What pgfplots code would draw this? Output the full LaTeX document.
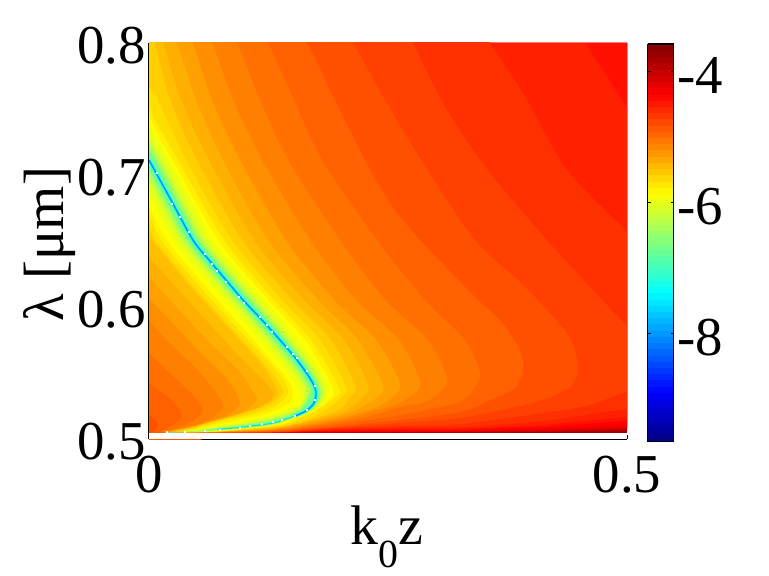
\documentclass[border=0pt]{standalone}
\usepackage{fontspec}
\setmainfont{Liberation Serif}
\usepackage{pgfplots}
\pgfplotsset{compat=1.18}

% colours of the 64 step jet map that occur in the picture
\definecolor{j31}{rgb}{.4375,1,.5625}
\definecolor{j34}{rgb}{.625,1,.375}
\definecolor{j36}{rgb}{.75,1,.25}
\definecolor{j38}{rgb}{.875,1,.125}
\definecolor{j39}{rgb}{.9375,1,.0625}
\definecolor{j40}{rgb}{1,1,0}
\definecolor{j41}{rgb}{1,.9375,0}
\definecolor{j42}{rgb}{1,.875,0}
\definecolor{j43}{rgb}{1,.8125,0}
\definecolor{j44}{rgb}{1,.75,0}
\definecolor{j45}{rgb}{1,.6875,0}
\definecolor{j46}{rgb}{1,.625,0}
\definecolor{j47}{rgb}{1,.5625,0}
\definecolor{j48}{rgb}{1,.5,0}
\definecolor{j49}{rgb}{1,.4375,0}
\definecolor{j50}{rgb}{1,.375,0}
\definecolor{j51}{rgb}{1,.3125,0}
\definecolor{j52}{rgb}{1,.25,0}
\definecolor{j53}{rgb}{1,.1875,0}
\definecolor{j54}{rgb}{1,.125,0}
\definecolor{j55}{rgb}{1,.0625,0}
\definecolor{j56}{rgb}{1,0,0}
\definecolor{j57}{rgb}{.9375,0,0}
\definecolor{j58}{rgb}{.875,0,0}
\definecolor{j60}{rgb}{.75,0,0}
\definecolor{j62}{rgb}{.625,0,0}

\newcommand{\bigfont}{\fontsize{55}{55}\selectfont}

\pgfplotsset{
    band/.style={draw=none,fill=#1,forget plot,smooth cycle,tension=0.5},
    strip/.style={draw=none,fill=#1,forget plot},
}

\begin{document}
\begin{tikzpicture}
\useasboundingbox (0,0) rectangle (769bp,576bp);
\begin{axis}[
    at={(149bp,136.5bp)},
    anchor=south west,
    scale only axis,
    width=478bp,
    height=396.5bp,
    xmin=0, xmax=0.5,
    ymin=0.5, ymax=0.8,
    axis x line*=bottom,
    axis y line*=left,
    axis line style={-,line width=1.5bp},
    xtick={0,0.5},
    xticklabels={0,0.5},
    ytick={0.5,0.6,0.7,0.8},
    yticklabels={0.5,0.6,0.7,0.8},
    xtick align=inside,
    major tick length=4bp,
    ytick style={draw=none},
    xtick style={line width=0.8bp,black},
    xticklabel style={font=\bigfont,inner sep=0pt,anchor=north,yshift=-16.5bp},
    yticklabel style={font=\bigfont,inner sep=0pt,anchor=east,xshift=-3bp,yshift=-2.5bp},
    every axis x label/.style={at={(axis description cs:0.497,0)},anchor=base,yshift=-104.5bp,font=\fontsize{56}{56}\selectfont},
    every axis y label/.style={at={(axis description cs:-0.178,0.493)},rotate=90,anchor=base,font=\fontsize{57}{57}\selectfont},
    xlabel={k\raisebox{-23bp}{\fontsize{40}{40}\selectfont 0}z},
    ylabel={λ [μm]},
    colormap/jet,
    point meta min=-9.655,
    point meta max=-3.58,
    colorbar sampled,
    colorbar style={
        samples=65,
        at={(parent axis.north east)},
        anchor=north west,
        xshift=12bp,
        yshift=-1bp,
        scale only axis,
        width=26bp,
        height=397.7bp,
        ytick={-8,-6,-4},
        yticklabels={-8,-6,-4},
        ytick pos=both,
        yticklabel pos=right,
        ytick align=inside,
        major tick length=3bp,
        axis line style={line width=1.5bp},
        ytick style={line width=0.8bp,black},
        yticklabel style={font=\bigfont,inner sep=0pt,anchor=west,xshift=4bp,yshift=-4bp},
    },
]
% dark strip at the bottom, then the levels from the top of the scale down
\addplot[strip=j62] coordinates {(0,.8)(.5,.8)(.5,.5049)(0,.5049)};
\addplot[strip=j60] coordinates {(0,.8)(.5,.8)(.5,.5064)(.4121,.5057)(.3253,.5052)(.1998,.5049)(0,.5049)};
\addplot[strip=j58] coordinates {(0,.8)(.5,.8)(.5,.5080)(.4121,.5064)(.3253,.5059)(.1998,.5055)(.0743,.5049)(0,.5049)};
\addplot[strip=j57] coordinates {(0,.8)(.5,.8)(.5,.5091)(.4121,.5072)(.3253,.5062)(.1998,.5058)(.0743,.5049)(0,.5049)};
\addplot[strip=j56] coordinates {(0,.8)(.5,.8)(.5,.5110)(.4121,.5080)(.3253,.5064)(.2625,.5064)(.1998,.5064)(.1370,.5053)(.0743,.5049)(0,.5049)};
\addplot[strip=j55] coordinates {(0,.8)(.5,.8)(.5,.5140)(.4121,.5095)(.3253,.5072)(.2625,.5072)(.1998,.5068)(.1370,.5054)(.0743,.5050)(0,.5049)};
\addplot[strip=j54] coordinates {(0,.8)(.4561,.8)(.5,.7508)(.5,.5170)(.4121,.5110)(.3253,.5080)(.2625,.5080)(.1998,.5072)(.1370,.5057)(.0743,.5051)(0,.5049)};

\addplot[band=j53] coordinates {(-.03,.83)(.33,.83)(.3567,.8)(.3912,.7622)(.4372,.7039)(.5010,.6570)(.53,.64)(.53,.52)(.5010,.5231)(.4121,.5140)(.3253,.5095)(.2625,.5091)(.1998,.5080)(.1370,.5056)(.0743,.5052)(-.03,.5045)};
\addplot[band=j52] coordinates {(-.03,.83)(.255,.83)(.2761,.8)(.3117,.7493)(.3567,.7016)(.4163,.6509)(.4613,.6154)(.5010,.5851)(.53,.565)(.53,.53)(.5010,.5360)(.4613,.5261)(.4121,.5201)(.3253,.5117)(.2625,.5102)(.1998,.5087)(.1370,.5057)(.0743,.5050)(-.03,.5045)};
\addplot[band=j51] coordinates {(-.03,.83)(.19,.83)(.2134,.8)(.2469,.7569)(.2845,.7115)(.3410,.6509)(.3912,.6169)(.4383,.5791)(.4487,.5541)(.4404,.5397)(.4121,.5299)(.3776,.5238)(.3253,.5163)(.2625,.5125)(.1998,.5095)(.1370,.5060)(.0743,.5052)(-.03,.5045)};
\addplot[band=j50] coordinates {(-.03,.83)(.14,.83)(.1653,.8)(.1946,.7569)(.2259,.7115)(.2521,.6789)(.2835,.6509)(.3441,.6056)(.3671,.5904)(.3881,.5677)(.3912,.5511)(.3828,.5390)(.3619,.5314)(.3253,.5208)(.2625,.5148)(.1998,.5102)(.1370,.5064)(.0743,.5053)(.0167,.5049)(.0042,.5053)(.0094,.5110)(0,.5185)(-.02,.525)};
\addplot[band=j49] coordinates {(-.03,.83)(.10,.83)(.1245,.8)(.1517,.7569)(.1810,.7115)(.2385,.6509)(.2887,.6056)(.3305,.5753)(.3462,.5503)(.3389,.5375)(.3253,.5284)(.2939,.5231)(.2625,.5185)(.1998,.5117)(.1370,.5068)(.0743,.5055)(.0146,.5053)(.0282,.5125)(.0345,.5201)(.0199,.5322)(0,.5428)(-.02,.555)};
\addplot[band=j48] coordinates {(-.03,.83)(.07,.83)(.0920,.8)(.1161,.7569)(.1454,.7115)(.1998,.6509)(.2469,.6056)(.2918,.5753)(.3117,.5465)(.3044,.5360)(.2887,.5284)(.2625,.5246)(.2312,.5178)(.1998,.5133)(.1370,.5072)(.0743,.5057)(.0167,.5053)(.0303,.5087)(.0471,.5140)(.0565,.5223)(.0481,.5322)(.0241,.5488)(0,.5655)(-.02,.58)};
\addplot[band=j47] coordinates {(-.03,.83)(.045,.83)(.0659,.8)(.0879,.7569)(.1182,.7115)(.1684,.6509)(.2165,.6056)(.2615,.5753)(.2835,.5435)(.2751,.5337)(.2573,.5261)(.2312,.5208)(.1998,.5148)(.1370,.5076)(.0743,.5058)(.0199,.5057)(.0481,.5110)(.0669,.5163)(.0774,.5246)(.0722,.5337)(.0513,.5526)(.0241,.5715)(0,.5904)(-.02,.61)};
\addplot[band=j46] coordinates {(-.03,.83)(.028,.83)(.0460,.8)(.0659,.7569)(.0952,.7115)(.1433,.6509)(.1935,.6056)(.2374,.5753)(.2625,.5428)(.2552,.5322)(.2364,.5238)(.1998,.5163)(.1370,.5080)(.0743,.5059)(.0220,.5057)(.0429,.5095)(.0659,.5140)(.0847,.5193)(.0952,.5276)(.0826,.5450)(.0513,.5677)(.0220,.5904)(0,.6071)(-.02,.63)};
\addplot[band=j45] coordinates {(-.03,.83)(.012,.83)(.0293,.8)(.0492,.7569)(.0774,.7115)(.1245,.6509)(.1768,.6056)(.2186,.5753)(.2448,.5412)(.2374,.5314)(.2207,.5238)(.1998,.5182)(.1370,.5087)(.0743,.5060)(.0241,.5057)(.0533,.5110)(.0795,.5163)(.1004,.5216)(.1130,.5299)(.1077,.5375)(.0931,.5526)(.0607,.5753)(.0220,.6056)(0,.6230)(-.02,.64)};
\addplot[band=j44] coordinates {(-.03,.83)(0,.83)(.0146,.8)(.0335,.7569)(.0628,.7115)(.1098,.6509)(.1621,.6056)(.2040,.5753)(.2291,.5412)(.2228,.5314)(.2102,.5238)(.1998,.5201)(.1370,.5091)(.0743,.5061)(.0272,.5057)(.0429,.5087)(.0638,.5133)(.0900,.5185)(.1140,.5238)(.1297,.5322)(.1245,.5412)(.0983,.5602)(.0596,.5904)(.0220,.6207)(0,.6381)(-.02,.66)};
\addplot[band=j43] coordinates {(-.03,.83)(-.005,.83)(.0063,.8)(.0220,.7569)(.0502,.7115)(.0973,.6509)(.1496,.6056)(.1904,.5753)(.2155,.5405)(.2102,.5322)(.1998,.5231)(.1684,.5148)(.1370,.5095)(.0743,.5062)(.0303,.5057)(.0481,.5095)(.0690,.5140)(.0952,.5193)(.1192,.5254)(.1349,.5337)(.1287,.5450)(.1140,.5602)(.0753,.5904)(.0377,.6207)(.0031,.6509)(0,.6547)(-.02,.67)};
\addplot[band=j42] coordinates {(-.02,.79)(0,.7667)(.0094,.7569)(.0387,.7115)(.0868,.6509)(.1391,.6056)(.1789,.5753)(.2061,.5397)(.2008,.5322)(.1914,.5254)(.1684,.5163)(.1370,.5102)(.0743,.5063)(.0345,.5059)(.0513,.5095)(.0764,.5148)(.1036,.5193)(.1266,.5261)(.1402,.5352)(.1339,.5450)(.1172,.5602)(.0785,.5904)(.0408,.6207)(.0063,.6509)(0,.6623)(-.02,.68)};
\addplot[band=j41] coordinates {(-.02,.77)(0,.7516)(.0063,.7417)(.0303,.7115)(.0785,.6509)(.1308,.6056)(.1695,.5753)(.1987,.5390)(.1946,.5322)(.1841,.5261)(.1632,.5178)(.1370,.5110)(.0743,.5063)(.0377,.5060)(.0565,.5095)(.0826,.5148)(.1109,.5193)(.1328,.5254)(.1454,.5344)(.1412,.5450)(.1234,.5602)(.0847,.5904)(.0471,.6207)(.0126,.6509)(0,.6699)(-.02,.69)};
\addplot[band=j40] coordinates {(-.02,.76)(0,.7440)(.0115,.7266)(.0241,.7115)(.0722,.6509)(.1245,.6056)(.1632,.5753)(.1925,.5375)(.1872,.5299)(.1736,.5216)(.1527,.5155)(.1370,.5114)(.0743,.5064)(.0429,.5061)(.0617,.5095)(.0900,.5140)(.1182,.5185)(.1402,.5246)(.1506,.5322)(.1454,.5450)(.1276,.5602)(.0910,.5904)(.0533,.6207)(.0188,.6509)(0,.6759)(-.02,.70)};
\addplot[band=j39] coordinates {(-.02,.755)(0,.7387)(.0439,.6812)(.0669,.6509)(.1015,.6207)(.1391,.5904)(.1715,.5602)(.1851,.5450)(.1883,.5360)(.1820,.5269)(.1642,.5193)(.1297,.5104)(.0952,.5081)(.0607,.5062)(.0450,.5058)(.0607,.5088)(.0952,.5132)(.1297,.5189)(.1579,.5279)(.1559,.5360)(.1506,.5450)(.1339,.5602)(.0973,.5904)(.0596,.6207)(.0251,.6509)(0,.6842)(-.02,.70)};
\addplot[band=j38] coordinates {(-.02,.75)(0,.7319)(.0387,.6812)(.0617,.6509)(.0962,.6207)(.1339,.5904)(.1674,.5602)(.1810,.5450)(.1851,.5360)(.1799,.5269)(.1642,.5198)(.1297,.5110)(.0952,.5084)(.0607,.5064)(.0481,.5059)(.0607,.5083)(.0952,.5121)(.1297,.5173)(.1579,.5257)(.1611,.5360)(.1559,.5450)(.1391,.5602)(.1025,.5904)(.0649,.6207)(.0303,.6509)(0,.6910)(-.02,.705)};
\addplot[band=j36] coordinates {(-.02,.74)(0,.7266)(.0345,.6812)(.0575,.6509)(.0920,.6207)(.1297,.5904)(.1642,.5602)(.1778,.5450)(.1820,.5360)(.1778,.5276)(.1642,.5203)(.1297,.5114)(.0952,.5086)(.0607,.5065)(.0502,.5060)(.0607,.5079)(.0952,.5114)(.1297,.5160)(.1579,.5241)(.1642,.5360)(.1590,.5450)(.1433,.5602)(.1067,.5904)(.0690,.6207)(.0345,.6509)(.0115,.6812)(0,.6963)(-.02,.71)};
\addplot[band=j34] coordinates {(-.02,.735)(0,.7228)(.0314,.6812)(.0544,.6509)(.0889,.6207)(.1266,.5904)(.1616,.5602)(.1757,.5450)(.1799,.5360)(.1768,.5276)(.1642,.5207)(.1297,.5117)(.0952,.5087)(.0607,.5066)(.0533,.5061)(.0607,.5076)(.0952,.5108)(.1297,.5151)(.1579,.5229)(.1674,.5360)(.1621,.5450)(.1464,.5602)(.1098,.5904)(.0722,.6207)(.0377,.6509)(.0146,.6812)(0,.7001)(-.02,.715)};
\addplot[band=j31] coordinates {(-.02,.73)(0,.7190)(.0288,.6812)(.0518,.6509)(.0863,.6207)(.1240,.5904)(.1594,.5602)(.1736,.5450)(.1784,.5360)(.1752,.5276)(.1642,.5210)(.1297,.5120)(.0952,.5089)(.0607,.5067)(.0565,.5063)(.0607,.5074)(.0952,.5102)(.1297,.5142)(.1579,.5219)(.1697,.5360)(.1642,.5450)(.1496,.5602)(.1124,.5904)(.0748,.6207)(.0403,.6509)(.0173,.6812)(0,.7039)(-.02,.72)};

% the minimum itself
\addplot[forget plot,smooth,no marks,color={rgb,1:red,.1;green,1;blue,.9},line width=3.2bp] coordinates {(0,.7115)(.0115,.6963)(.0230,.6812)(.0460,.6509)(.0628,.6358)(.0805,.6207)(.0983,.6056)(.1182,.5904)(.1370,.5753)(.1548,.5602)(.1695,.5450)(.1747,.5360)(.1726,.5276)(.1642,.5216)(.1527,.5178)};
\addplot[forget plot,smooth,no marks,color={rgb,1:red,0;green,.85;blue,1},line width=1.9bp] coordinates {(0,.7115)(.0115,.6963)(.0230,.6812)(.0460,.6509)(.0628,.6358)(.0805,.6207)(.0983,.6056)(.1182,.5904)(.1370,.5753)(.1548,.5602)(.1695,.5450)(.1747,.5360)(.1726,.5276)(.1642,.5216)(.1527,.5178)};
\addplot[forget plot,smooth,no marks,color={rgb,1:red,0;green,.85;blue,1},line width=0.9bp] coordinates {(.1527,.5178)(.1297,.5125)(.0952,.5091)(.0715,.5076)};
\addplot[forget plot,smooth,no marks,color={rgb,1:red,.45;green,1;blue,.55},line width=0.5bp] coordinates {(.0715,.5076)(.0607,.5069)(.0356,.5057)(.0188,.5053)};
\addplot[forget plot,smooth,no marks,color={rgb,1:red,0;green,.45;blue,1},line width=0.7bp] coordinates {(0,.7115)(.0115,.6963)(.0230,.6812)(.0460,.6509)(.0628,.6358)(.0805,.6207)(.0983,.6056)(.1182,.5904)(.1370,.5753)(.1548,.5602)(.1695,.5450)(.1747,.5360)(.1726,.5276)(.1642,.5216)(.1527,.5178)};
% white specks along the minimum
\addplot[forget plot,white,only marks,mark=square*,mark size=0.5bp,mark options={draw=white,fill=white,line width=0pt}] coordinates {(.0084,.7016)(.0241,.6782)(.0324,.6684)(.0418,.6570)(.0586,.6404)(.0659,.6328)(.0711,.6275)(.0805,.6192)(.0941,.6078)(.0994,.6033)(.1161,.5927)(.1234,.5866)(.1287,.5813)(.1443,.5700)(.1506,.5647)(.1548,.5617)(.1653,.5518)(.1736,.5405)(.1736,.5299)(.1653,.5223)(.1527,.5178)(.1391,.5148)(.1297,.5133)(.1182,.5117)(.1056,.5102)(.0952,.5087)(.0743,.5072)(.0586,.5064)(.0377,.5057)(.0188,.5057)};
% empty strip between the data and the axis
\addplot[strip=white] coordinates {(0,.5)(.5,.5)(.5,.5047)(0,.5047)};
\end{axis}
\end{tikzpicture}
\end{document}
